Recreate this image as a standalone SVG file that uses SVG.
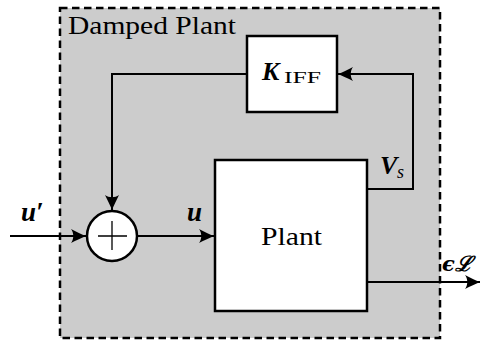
<svg xmlns="http://www.w3.org/2000/svg" width="480" height="342" viewBox="0 0 480 342">
<style>
.box{fill:#fff;stroke:#000;stroke-width:2.5}
.wire{fill:none;stroke:#000;stroke-width:2}
</style>
<defs>
<marker id="arr" markerUnits="userSpaceOnUse" markerWidth="20" markerHeight="20" viewBox="-16 -10 20 20" refX="0" refY="0" orient="auto">
<path d="M0,0 C-4,-1.5 -10,-4.5 -15,-7 C-12,-3 -12,3 -15,7 C-10,4.5 -4,1.5 0,0 Z" fill="#000"/>
</marker>
</defs>
<g id="damped-plant">
<rect x="60" y="8" width="380" height="330" fill="#cccccc" stroke="#000" stroke-width="2.5" stroke-dasharray="7.5,4.5"/>
<text x="68" y="34" font-family="Liberation Serif, DejaVu Serif, serif" font-size="26" textLength="168" lengthAdjust="spacingAndGlyphs">Damped Plant</text>
</g>
<g id="kiff">
<rect class="box" x="247" y="36" width="90" height="76"/>
<text x="262" y="80" font-family="Liberation Serif, DejaVu Serif, serif" font-size="26" font-style="italic" font-weight="bold">K</text>
<text x="284" y="83" font-family="Liberation Serif, DejaVu Serif, serif" font-size="16" textLength="37" lengthAdjust="spacingAndGlyphs">IFF</text>
</g>
<g id="plant">
<rect class="box" x="215" y="160" width="152" height="151"/>
<text x="261" y="245" font-family="Liberation Serif, DejaVu Serif, serif" font-size="26" textLength="61" lengthAdjust="spacingAndGlyphs">Plant</text>
</g>
<g id="sum">
<circle cx="112" cy="236" r="25" fill="#fff" stroke="#000" stroke-width="2.5"/>
<path d="M98,236 H127 M112,221 V250" stroke="#000" stroke-width="1.3"/>
</g>
<g id="connectors">
<path class="wire" d="M10,236 H86" marker-end="url(#arr)"/>
<path class="wire" d="M137,236 H214" marker-end="url(#arr)"/>
<path class="wire" d="M247,74 H112 V210" marker-end="url(#arr)"/>
<path class="wire" d="M367,189 H413 V74 H338" marker-end="url(#arr)"/>
<path class="wire" d="M367,282 H480" marker-end="url(#arr)"/>
</g>
<g id="labels" font-family="Liberation Serif, DejaVu Serif, serif" font-size="25" font-style="italic" font-weight="bold">
<text x="21" y="221" font-size="27">u′</text>
<text x="187" y="221" font-size="27">u</text>
<text x="380" y="174" font-size="26">V</text>
<text x="397" y="178" font-size="18" font-weight="normal">s</text>
<text x="442" y="271" font-family="DejaVu Serif, serif" font-size="21">ϵℒ</text>
</g>
</svg>
